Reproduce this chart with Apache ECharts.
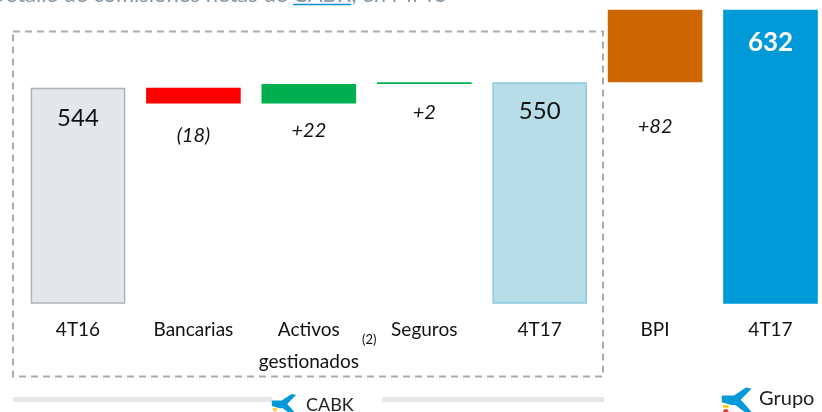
<!DOCTYPE html>
<html>
<head>
<meta charset="utf-8">
<script src="https://cdn.jsdelivr.net/npm/echarts@6/dist/echarts.min.js"></script>
<style>
  html, body { margin: 0; padding: 0; background: #fff; }
  #chart { width: 822px; height: 412px; }
</style>
</head>
<body>
<div id="chart"></div>
<script>
// comisiones netas, MM€
const categories = ['4T16', 'Bancarias', 'Activos\ngestionados', 'Seguros', '4T17', 'BPI', '4T17'];
const values = [544, -18, 22, 2, 550, 82, 632];
const isTotal = [true, false, false, false, true, false, true];

const Y_MIN = 300;
const Y_MAX = 640;

const barColors = ['#e3e7ea', '#ff0000', '#00b050', '#00b050', '#b7dde8', '#cc6600', '#009ad8'];
const FONT = 'Lato, "Open Sans", sans-serif';

// base invisible + tramo visible (los totales arrancan en el mínimo del eje)
const baseData = [];
const barData = [];
let running = 0;
values.forEach((v, i) => {
  if (isTotal[i]) {
    baseData.push(Y_MIN);
    barData.push(v - Y_MIN);
    running = v;
  } else {
    baseData.push(Math.min(running, running + v));
    barData.push(Math.abs(v));
    running += v;
  }
});

const labelDist = [19, 22, 17, 18, 17, 34, 20];

const fmt = (v, i) => {
  if (isTotal[i]) return String(v);
  return v < 0 ? '(' + Math.abs(v) + ')' : '+' + v;
};

const visibleItems = barData.map((v, i) => {
  const item = {
    value: v,
    itemStyle: { color: barColors[i] },
    label: {
      show: true,
      formatter: fmt(values[i], i),
      fontFamily: FONT,
      color: '#111'
    }
  };
  if (isTotal[i]) {
    item.label.position = 'insideTop';
    item.label.distance = labelDist[i];
    item.label.fontSize = 24;
  } else {
    item.label.position = 'bottom';
    item.label.distance = labelDist[i];
    item.label.fontSize = 20;
    item.label.fontStyle = 'italic';
  }
  return item;
});
visibleItems[0].itemStyle.borderColor = '#a9b5bc';
visibleItems[0].itemStyle.borderWidth = 1.5;
visibleItems[4].itemStyle.borderColor = '#8fcadb';
visibleItems[4].itemStyle.borderWidth = 1.5;
visibleItems[6].label.color = '#fff';
visibleItems[6].label.fontWeight = 'bold';
visibleItems[6].label.fontSize = 26;

// título cortado arriba: CABK subrayado
const ctx = document.createElement('canvas').getContext('2d');
const titleFont = '22px ' + FONT;
ctx.font = titleFont;
const prefix = 'Detalle de comisiones netas de ';
const cabkX = 293;
const titleX = cabkX - ctx.measureText(prefix).width;
const cabkW = ctx.measureText('CABK').width;

function logo(x, y, s) {
  return {
    type: 'group',
    x: x,
    y: y,
    scaleX: s,
    scaleY: s,
    silent: true,
    children: [
      {
        type: 'polygon',
        shape: { points: [[-12, -4], [-3, -4], [6, -10], [10, -9], [2, -1], [10, 8], [6, 9], [-2, 3], [-5, 3], [-12, 1]] },
        style: { fill: '#009ad8' }
      },
      { type: 'rect', shape: { x: -11, y: 3, width: 4, height: 2 }, style: { fill: '#ffcc00' } },
      { type: 'circle', shape: { cx: -9, cy: 8, r: 2 }, style: { fill: '#e8432d' } }
    ]
  };
}

const chart = echarts.init(document.getElementById('chart'));
chart.setOption({
  animation: false,
  grid: { left: 78, right: 51.5, top: 2.6, height: 301.2 },
  xAxis: {
    type: 'category',
    data: categories,
    boundaryGap: false,
    axisLine: { show: false },
    axisTick: { show: false },
    splitLine: { show: false },
    axisLabel: {
      interval: 0,
      margin: 10,
      fontFamily: FONT,
      fontSize: 19,
      lineHeight: 32,
      color: '#111',
      verticalAlign: 'top'
    }
  },
  yAxis: {
    type: 'value',
    min: Y_MIN,
    max: Y_MAX,
    show: false,
    splitLine: { show: false }
  },
  series: [
    {
      type: 'bar',
      stack: 'wf',
      data: baseData,
      barWidth: '82%',
      clip: false,
      itemStyle: { color: 'transparent' },
      silent: true
    },
    {
      type: 'bar',
      stack: 'wf',
      data: visibleItems,
      barWidth: '82%',
      clip: false
    }
  ],
  graphic: [
    {
      type: 'rect',
      silent: true,
      shape: { x: 13, y: 31.5, width: 590, height: 345 },
      style: { fill: 'none', stroke: '#a3adb4', lineWidth: 2, lineDash: [7, 5] }
    },
    {
      type: 'text',
      silent: true,
      x: titleX,
      y: 6,
      style: {
        text: prefix + 'CABK, en MM€',
        font: titleFont,
        fill: '#8597a5',
        textVerticalAlign: 'bottom'
      }
    },
    {
      type: 'line',
      silent: true,
      shape: { x1: cabkX, y1: 4.5, x2: cabkX + cabkW, y2: 4.5 },
      style: { stroke: '#0a8fd0', lineWidth: 1.5 }
    },
    {
      type: 'text',
      silent: true,
      x: 362,
      y: 333,
      style: { text: '(2)', font: '13px ' + FONT, fill: '#111' }
    },
    {
      type: 'rect',
      silent: true,
      shape: { x: 13, y: 397, width: 259, height: 5 },
      style: { fill: '#e5e7e9' }
    },
    {
      type: 'rect',
      silent: true,
      shape: { x: 382, y: 397, width: 222, height: 5 },
      style: { fill: '#e5e7e9' }
    },
    logo(285, 405, 1.1),
    {
      type: 'text',
      silent: true,
      x: 306,
      y: 396,
      style: { text: 'CABK', font: '18px ' + FONT, fill: '#222' }
    },
    logo(738, 401, 1.35),
    {
      type: 'text',
      silent: true,
      x: 759,
      y: 389,
      style: { text: 'Grupo', font: '20px ' + FONT, fill: '#222' }
    }
  ]
});
</script>
</body>
</html>
